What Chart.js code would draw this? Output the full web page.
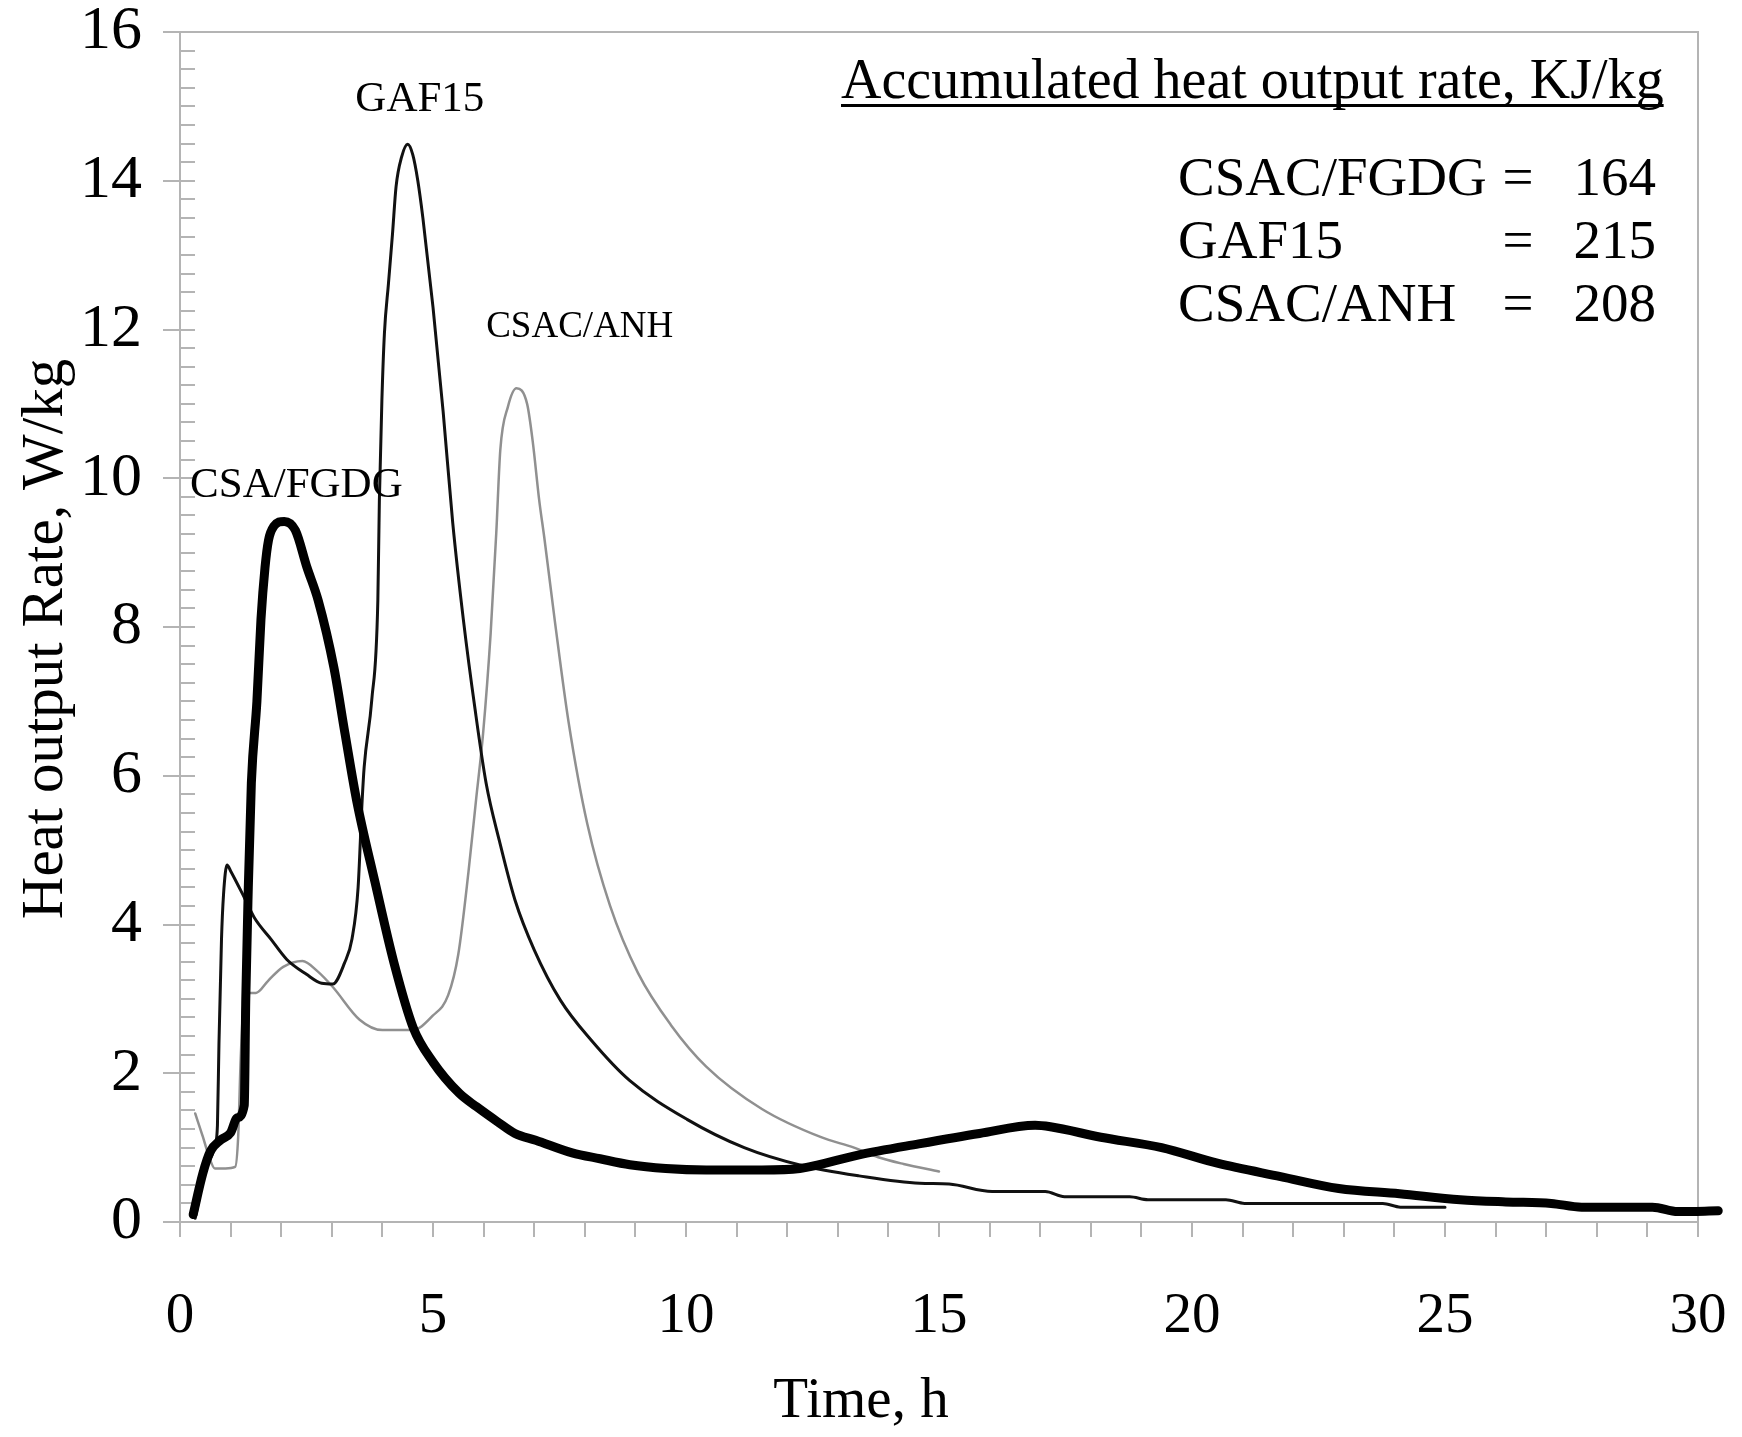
<!DOCTYPE html>
<html>
<head>
<meta charset="utf-8">
<script src="https://cdn.jsdelivr.net/npm/chart.js@4.4.1/dist/chart.umd.min.js"></script>
<style>
  html, body { margin: 0; padding: 0; background: #fff; }
  #wrap { position: relative; width: 1742px; height: 1437px; }
</style>
</head>
<body>
<div id="wrap"><canvas id="heatChart"></canvas></div>
<script>
// Data: [time h, heat output W/kg]
const csaFgdg = [
  [0.26, 0.1], [0.45, 0.65], [0.6, 0.95], [0.8, 1.1], [1.0, 1.2], [1.13, 1.4], [1.27, 1.57],
  [1.3, 3.0], [1.35, 4.5], [1.41, 5.9], [1.52, 7.0], [1.6, 8.1], [1.68, 8.8], [1.75, 9.17],
  [1.85, 9.35], [2.06, 9.42], [2.28, 9.3], [2.51, 8.8], [2.73, 8.36], [3.04, 7.46], [3.26, 6.57],
  [3.49, 5.67], [3.85, 4.58], [4.23, 3.48], [4.61, 2.61], [5.0, 2.15], [5.52, 1.73], [5.86, 1.55],
  [6.27, 1.35], [6.62, 1.19], [7.03, 1.1], [7.75, 0.93], [8.3, 0.85], [8.89, 0.77], [9.6, 0.72],
  [10.4, 0.7], [11.5, 0.7], [12.25, 0.72], [13.4, 0.9], [14.6, 1.05], [15.8, 1.19], [16.9, 1.3],
  [17.2, 1.28], [18.2, 1.14], [19.4, 1.0], [20.5, 0.79], [21.75, 0.61], [22.9, 0.45], [24.1, 0.38],
  [25.3, 0.3], [26.2, 0.27], [27.1, 0.25], [27.7, 0.2], [28.4, 0.2], [29.1, 0.2], [29.6, 0.14], [30.4, 0.15]
];
const gaf15 = [
  [0.3, 0.05], [0.5, 0.7], [0.7, 1.05], [0.74, 1.3], [0.77, 2.4], [0.82, 3.8], [0.86, 4.4],
  [0.93, 4.8], [1.0, 4.72], [1.28, 4.35], [1.47, 4.09], [1.8, 3.8], [2.11, 3.53], [2.5, 3.33],
  [2.8, 3.21], [3.02, 3.2], [3.25, 3.48], [3.4, 3.81], [3.52, 4.5], [3.6, 5.67], [3.64, 6.12],
  [3.79, 7.02], [3.91, 8.36], [3.94, 9.7], [3.99, 11.05], [4.04, 11.95], [4.12, 12.62], [4.2, 13.29],
  [4.27, 13.92], [4.38, 14.32], [4.5, 14.49], [4.6, 14.35], [4.7, 14.0], [4.8, 13.5], [5.0, 12.3],
  [5.2, 10.9], [5.39, 9.4], [5.6, 8.1], [5.83, 6.9], [6.05, 5.9], [6.31, 5.13], [6.62, 4.33],
  [7.0, 3.66], [7.52, 2.98], [8.12, 2.45], [8.89, 1.9], [10.02, 1.38], [11.15, 1.0], [12.29, 0.76],
  [13.42, 0.62], [14.62, 0.52], [15.2, 0.51], [16.05, 0.41], [17.1, 0.41], [17.48, 0.34],
  [18.77, 0.34], [19.13, 0.3], [20.67, 0.3], [21.04, 0.25], [23.77, 0.25], [24.12, 0.2], [25.0, 0.2]
];
const csacAnh = [
  [0.3, 1.46], [0.45, 1.15], [0.55, 0.93], [0.69, 0.72], [0.9, 0.72], [1.09, 0.74], [1.15, 1.15],
  [1.2, 2.2], [1.27, 3.1], [1.3, 3.2], [1.35, 3.08], [1.5, 3.08], [1.75, 3.25], [2.04, 3.43],
  [2.42, 3.51], [2.72, 3.37], [3.02, 3.16], [3.55, 2.72], [4.0, 2.58], [4.6, 2.58], [4.99, 2.77],
  [5.3, 3.05], [5.5, 3.6], [5.7, 4.7], [5.85, 5.67], [5.99, 6.57], [6.14, 7.92], [6.25, 9.26],
  [6.33, 10.38], [6.48, 10.96], [6.65, 11.21], [6.86, 11.0], [6.97, 10.5], [7.1, 9.7], [7.2, 9.2],
  [7.41, 8.07], [7.68, 6.72], [8.05, 5.35], [8.5, 4.25], [9.05, 3.35], [9.7, 2.65], [10.4, 2.09],
  [11.5, 1.52], [12.67, 1.14], [13.32, 1.0], [13.8, 0.87], [14.3, 0.78], [15.0, 0.68]
];

const seriesNames = ['CSA/FGDG', 'GAF15', 'CSAC/ANH'];
const accumNames = ['CSAC/FGDG', 'GAF15', 'CSAC/ANH'];
const accumValues = [164, 215, 208];
const xTickLabels = [0, 5, 10, 15, 20, 25, 30];
const yTickLabels = [0, 2, 4, 6, 8, 10, 12, 14, 16];

const serif = '"Liberation Serif", "Times New Roman", serif';
const axisGray = '#b4b4b4';

const toXY = arr => arr.map(p => ({ x: p[0], y: p[1] }));

// curve labels, placed in data coordinates
const curveLabels = [
  { text: seriesNames[0], x: 2.3, y: 9.9, size: 43 },
  { text: seriesNames[1], x: 4.74, y: 15.09, size: 43 },
  { text: seriesNames[2], x: 7.9, y: 12.03, size: 37 }
];

const overlay = {
  id: 'overlay',
  beforeDatasetsDraw(chart) {
    const { ctx, chartArea: a, scales: { y } } = chart;
    ctx.save();
    ctx.strokeStyle = axisGray;
    ctx.lineWidth = 2;
    ctx.beginPath();
    ctx.moveTo(a.left, a.top);
    ctx.lineTo(a.right, a.top);
    ctx.lineTo(a.right, a.bottom);
    // inner minor ticks on y axis
    for (let v = 0; v <= 16.001; v += 0.25) {
      const py = Math.round(y.getPixelForValue(v));
      ctx.moveTo(a.left, py);
      ctx.lineTo(a.left + 15, py);
    }
    ctx.stroke();
    ctx.restore();
  },
  afterDraw(chart) {
    const { ctx, chartArea: a, scales: { x, y } } = chart;
    ctx.save();
    ctx.fillStyle = '#000';
    ctx.textAlign = 'center';
    ctx.textBaseline = 'middle';
    curveLabels.forEach(l => {
      ctx.font = `${l.size}px ${serif}`;
      ctx.fillText(l.text, x.getPixelForValue(l.x), y.getPixelForValue(l.y));
    });

    // axis titles
    ctx.font = `57px ${serif}`;
    ctx.fillText('Time, h', a.left + 681, a.bottom + 180);
    ctx.save();
    ctx.translate(46, (a.top + a.bottom) / 2 + 12);
    ctx.rotate(-Math.PI / 2);
    ctx.font = `59px ${serif}`;
    ctx.fillText('Heat output Rate, W/kg', 0, 0);
    ctx.restore();

    // accumulated heat box
    const boxLeft = a.left + 661;
    ctx.textAlign = 'left';
    ctx.textBaseline = 'alphabetic';
    ctx.font = `56px ${serif}`;
    const head = 'Accumulated heat output rate, KJ/kg';
    ctx.fillText(head, boxLeft, 98);
    const w = ctx.measureText(head).width;
    ctx.fillRect(boxLeft, 104, w, 3);

    ctx.font = `55px ${serif}`;
    accumNames.forEach((name, i) => {
      const by = 195 + i * 63;
      ctx.textAlign = 'left';
      ctx.fillText(name, a.left + 998, by);
      ctx.textAlign = 'center';
      ctx.fillText('=', a.left + 1338, by);
      ctx.textAlign = 'right';
      ctx.fillText(String(accumValues[i]), a.left + 1476, by);
    });
    ctx.restore();
  }
};

new Chart(document.getElementById('heatChart'), {
  type: 'scatter',
  data: {
    datasets: [
      { label: seriesNames[0], data: toXY(csaFgdg), borderColor: '#000', borderWidth: 9 },
      { label: seriesNames[1], data: toXY(gaf15), borderColor: '#111', borderWidth: 3 },
      { label: seriesNames[2], data: toXY(csacAnh), borderColor: '#909090', borderWidth: 2.5 }
    ].map(d => Object.assign(d, {
      showLine: true,
      pointRadius: 0,
      fill: false,
      cubicInterpolationMode: 'monotone',
      borderJoinStyle: 'round',
      borderCapStyle: 'round',
      clip: { left: 20, top: 0, right: 40, bottom: 20 }
    }))
  },
  options: {
    responsive: true,
    maintainAspectRatio: false,
    animation: false,
    layout: { padding: { top: 32, right: 44, left: 0, bottom: 0 } },
    plugins: { legend: { display: false }, tooltip: { enabled: false } },
    scales: {
      x: {
        type: 'linear',
        min: 0,
        max: 30,
        afterFit: s => { s.height = 215; s.paddingLeft = 0; s.paddingRight = 0; },
        border: { display: true, color: axisGray, width: 2 },
        grid: { drawOnChartArea: false, tickLength: 15, color: axisGray, lineWidth: 2 },
        ticks: {
          stepSize: 1,
          autoSkip: false,
          maxRotation: 0,
          padding: 52,
          color: '#000',
          font: { family: serif, size: 57, lineHeight: 1 },
          callback: v => xTickLabels.includes(v) ? String(v) : ''
        }
      },
      y: {
        type: 'linear',
        min: 0,
        max: 16,
        afterFit: s => { s.width = 180; s.paddingTop = 0; s.paddingBottom = 0; },
        border: { display: true, color: axisGray, width: 2 },
        grid: { drawOnChartArea: false, tickLength: 17, color: axisGray, lineWidth: 2 },
        ticks: {
          stepSize: 2,
          padding: 21,
          color: '#000',
          font: { family: serif, size: 62, lineHeight: 1 },
          callback: v => yTickLabels.includes(v) ? String(v) : ''
        }
      }
    }
  },
  plugins: [overlay]
});
</script>
</body>
</html>
